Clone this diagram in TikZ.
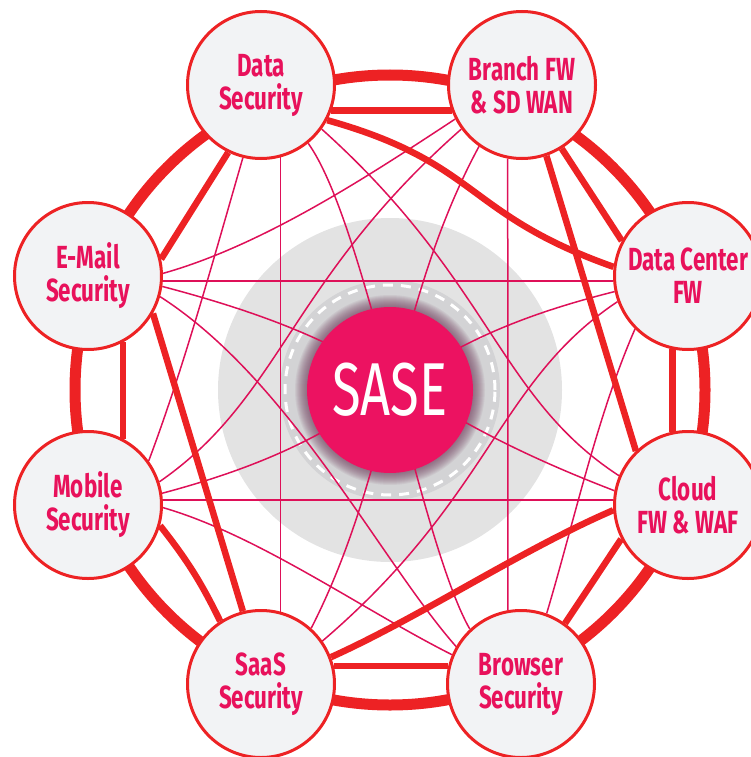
\documentclass[tikz,border=0pt]{standalone}
\usepackage{fontspec}
\newfontfamily\labelfont{Fira Sans}[FakeStretch=0.7]

\definecolor{ringred}{HTML}{ED2224}
\definecolor{meshpink}{HTML}{DE1058}
\definecolor{textpink}{HTML}{E8115B}
\definecolor{nodegray}{HTML}{F2F3F5}
\definecolor{sasepink}{HTML}{EC1261}
\definecolor{halogray}{HTML}{E3E3E3}
\definecolor{corona}{HTML}{D3D3D5}
\definecolor{glowtone}{HTML}{6E3A5A}

\pgfdeclarelayer{back}
\pgfdeclarelayer{wires}
\pgfsetlayers{back,wires,main}

\begin{document}
\begin{tikzpicture}[x=1pt,y=-1pt,
  service/.style={circle, draw=ringred, line width=3pt, fill=nodegray,
    minimum size=147pt, inner sep=0pt, align=center, text=textpink,
    font=\labelfont\bfseries\fontsize{32}{33}\selectfont},
  hub/.style={circle, fill=sasepink, minimum size=166pt, inner sep=0pt,
    text=white, font=\labelfont\fontsize{75}{75}\selectfont},
  mesh/.style={draw=meshpink, line width=1.5pt},
  link/.style={draw=ringred, line width=6.5pt},
  rim/.style={draw=ringred, line width=11pt}]

\useasboundingbox (0,0) rectangle (751,757);

% security services around the core
\node[service] (DS) at (261,85)  {Data\\Security};
\node[service] (BR) at (522,85)  {Branch FW\\\& SD WAN};
\node[service] (DC) at (688,276) {Data Center\\FW};
\node[service] (CL) at (688,505) {Cloud\\FW \& WAF};
\node[service] (BS) at (521,684) {Browser\\Security};
\node[service] (SS) at (261,684) {SaaS\\Security};
\node[service] (MB) at (88,505)  {Mobile\\Security};
\node[service] (EM) at (88,276)  {E-Mail\\Security};

% core
\node[hub] (SASE) at (390,390) {SASE};

% halo behind the core
\begin{pgfonlayer}{back}
  \fill[halogray] (SASE.center) circle[radius=172pt];
  \fill[corona] (SASE.center) circle[radius=110pt];
  \foreach \r in {84,...,95}
    \fill[glowtone, opacity=0.075] (SASE.center) circle[radius=\r pt];
  \draw[white, line width=3pt, dash pattern=on 10pt off 8pt]
    (SASE.center) circle[radius=105pt];
\end{pgfonlayer}

\begin{pgfonlayer}{wires}
  % thin mesh between non-neighbouring services
  \draw[mesh] (DS.-51) .. controls (366,224) and (420,542) .. (BS.133);
  \draw[mesh] (BR.235) .. controls (394,304) and (393,468) .. (SS.48);
  \draw[mesh] (EM.-8)  .. controls (404,350) and (381,401) .. (CL.169);
  \draw[mesh] (MB.9)   .. controls (404,429) and (373,352) .. (DC.192);
  \draw[mesh] (DS.-75) -- (SS.75);
  \draw[mesh] (BR.259) -- (BS.100);
  \draw[mesh] (EM.-4)  -- (DC.184);
  \draw[mesh] (MB.4)   -- (CL.176);
  \draw[mesh] (DS.-36) .. controls (491,281) and (498,397) .. (CL.157);
  \draw[mesh] (BR.216) .. controls (289,281) and (282,397) .. (MB.18);
  \draw[mesh] (DC.200) .. controls (498,381) and (491,497) .. (SS.35);
  \draw[mesh] (EM.-16) .. controls (290,380) and (380,560) .. (BS.150);
  \draw[mesh] (DC.225) .. controls (597,416) and (574,522) .. (BS.70);
  \draw[mesh] (MB.-2)  .. controls (258,535) and (363,610) .. (BS.157);
  \draw[mesh] (DS.256) .. controls (215,254) and (184,367) .. (MB.36);
  \draw[mesh] (EM.2)   .. controls (264,245) and (370,175) .. (BR.207);

  % outer ring
  \draw[rim] (SASE.center) circle[radius=315pt];

  % inner links between neighbours
  \draw[link] (DS.-20) -- (BR.200);
  \draw[link] (BR.-58) -- (DC.152);
  \draw[link] (DC.-102) -- (CL.102);
  \draw[link] (CL.207) -- (BS.54);
  \draw[link] (BS.166) -- (SS.14);
  \draw[link] (MB.-16) to[bend left=6] (SS.123);
  \draw[link] (MB.62) -- (EM.-62);
  \draw[link] (EM.13) -- (DS.244);

  % long links
  \draw[link] (DS.-28) .. controls (480,163) and (464,214) .. (DC.173);
  \draw[link] (BR.-71) -- (CL.134);
  \draw[link] (CL.184) .. controls (521,550) and (422,616) .. (SS.21);
  \draw[link] (EM.-30) -- (SS.104);
\end{pgfonlayer}
\end{tikzpicture}
\end{document}
